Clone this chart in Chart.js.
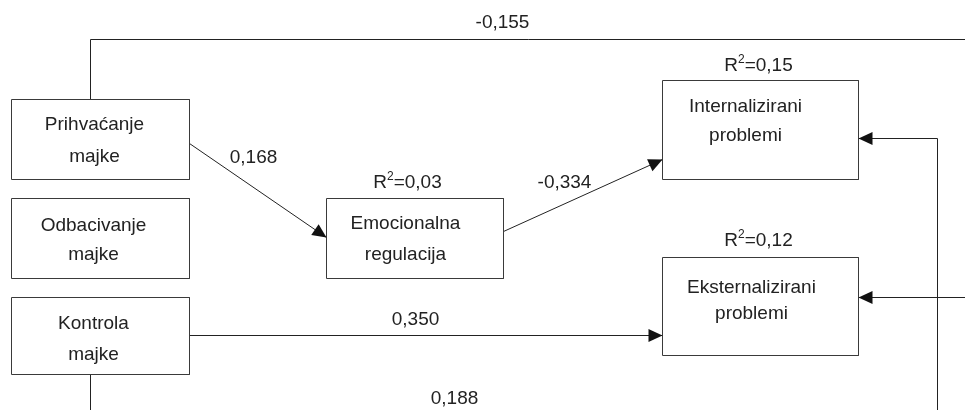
<!DOCTYPE html>
<html>
<head>
<meta charset="utf-8">
<script src="https://cdn.jsdelivr.net/npm/chart.js@4.4.0/dist/chart.umd.min.js"></script>
<style>
  html, body { margin: 0; padding: 0; background: #fff; }
  #wrap { width: 965px; height: 410px; }
</style>
</head>
<body>
<div id="wrap"><canvas id="diagram" width="965" height="410"></canvas></div>
<script>
// variables (boxes) and their labels
const nodeLabels = [
  ['Prihvaćanje', 'majke'],
  ['Odbacivanje', 'majke'],
  ['Kontrola', 'majke'],
  ['Emocionalna', 'regulacija'],
  ['Internalizirani', 'problemi'],
  ['Eksternalizirani', 'problemi']
];
// explained variance for the endogenous boxes
const r2Nodes = [3, 4, 5];
const r2Values = [0.03, 0.15, 0.12];

// path coefficients
const pathCoefs = [-0.155, 0.168, -0.334, 0.350, 0.188];

// layout in diagram units (x 0..965, y 0..410 downwards)
const boxX = [11, 11, 11, 326, 662, 662];
const boxY = [99, 198, 297, 198, 80, 257];
const boxW = [178, 178, 178, 177, 196, 196];
const boxH = [80, 80, 77, 80, 99, 98];
const textX = [94, 93, 93, 405, 745, 751];
const textY = [[124, 156], [225, 254], [323, 354], [223, 254], [106, 135], [287, 313]];
const r2Pos = [[407, 182], [758, 65], [758, 240]];

// path polylines, last point is arrow tip when arrow is true
const pathLines = [
  [[90, 99], [90, 39], [966, 39]],
  [[189, 143], [326, 237]],
  [[503, 231], [662, 159]],
  [[189, 335], [662, 335]],
  [[90, 374], [90, 411]],
  [[937, 411], [937, 138], [858, 138]],
  [[966, 297], [858, 297]]
];
const pathArrow = [false, true, true, true, false, true, true];
const coefPos = [[502, 22], [253, 157], [564, 182], [415, 319], [454, 398]];

const ink = '#222222';
const boxInk = '#3a3a3a';
const font = '"Liberation Sans", Arial, sans-serif';

function fmt(v, d) {
  return v.toFixed(d).replace('.', ',');
}

const datasets = [];
nodeLabels.forEach((lab, i) => {
  const x0 = boxX[i], y0 = boxY[i], x1 = boxX[i] + boxW[i], y1 = boxY[i] + boxH[i];
  datasets.push({
    data: [{x: x0, y: y0}, {x: x1, y: y0}, {x: x1, y: y1}, {x: x0, y: y1}, {x: x0, y: y0}],
    borderColor: boxInk
  });
});
pathLines.forEach((pts) => {
  datasets.push({
    data: pts.map(p => ({x: p[0], y: p[1]})),
    borderColor: ink
  });
});

const diagramText = {
  id: 'diagramText',
  afterDatasetsDraw(chart) {
    const ctx = chart.ctx;
    const xs = chart.scales.x, ys = chart.scales.y;
    const px = v => xs.getPixelForValue(v);
    const py = v => ys.getPixelForValue(v);
    ctx.save();

    // arrowheads
    ctx.fillStyle = '#111';
    pathLines.forEach((pts, i) => {
      if (!pathArrow[i]) return;
      const a = pts[pts.length - 2], b = pts[pts.length - 1];
      const ax = px(a[0]), ay = py(a[1]), bx = px(b[0]), by = py(b[1]);
      const len = Math.hypot(bx - ax, by - ay);
      const dx = (bx - ax) / len, dy = (by - ay) / len;
      const L = 14, hw = 6.5;
      const cx = bx - dx * L, cy = by - dy * L;
      ctx.beginPath();
      ctx.moveTo(bx, by);
      ctx.lineTo(cx - dy * hw, cy + dx * hw);
      ctx.lineTo(cx + dy * hw, cy - dx * hw);
      ctx.closePath();
      ctx.fill();
    });

    ctx.fillStyle = ink;
    ctx.textBaseline = 'middle';
    ctx.textAlign = 'center';
    ctx.font = '19px ' + font;

    // box labels
    nodeLabels.forEach((lab, i) => {
      lab.forEach((line, j) => {
        ctx.fillText(line, px(textX[i]), py(textY[i][j]));
      });
    });

    // coefficients
    pathCoefs.forEach((c, i) => {
      ctx.fillText(fmt(c, 3), px(coefPos[i][0]), py(coefPos[i][1]));
    });

    // R squared
    ctx.textAlign = 'left';
    r2Values.forEach((v, i) => {
      const big = '19px ' + font, small = '12px ' + font;
      const rest = '=' + fmt(v, 2);
      ctx.font = big;
      const wR = ctx.measureText('R').width;
      const wRest = ctx.measureText(rest).width;
      ctx.font = small;
      const w2 = ctx.measureText('2').width;
      const total = wR + w2 + wRest;
      let x = px(r2Pos[i][0]) - total / 2;
      const y = py(r2Pos[i][1]);
      ctx.font = big;
      ctx.fillText('R', x, y);
      x += wR;
      ctx.font = small;
      ctx.fillText('2', x, y - 6);
      x += w2;
      ctx.font = big;
      ctx.fillText(rest, x, y);
    });

    ctx.restore();
  }
};

new Chart(document.getElementById('diagram'), {
  type: 'scatter',
  data: { datasets: datasets.map(d => Object.assign({
    showLine: true, pointRadius: 0, borderWidth: 1, fill: false, tension: 0
  }, d)) },
  options: {
    responsive: false,
    animation: false,
    events: [],
    layout: { padding: 0 },
    plugins: { legend: { display: false }, tooltip: { enabled: false } },
    scales: {
      x: { type: 'linear', min: -0.5, max: 964.5, display: false },
      y: { type: 'linear', min: -0.5, max: 409.5, reverse: true, display: false }
    }
  },
  plugins: [diagramText]
});
</script>
</body>
</html>
